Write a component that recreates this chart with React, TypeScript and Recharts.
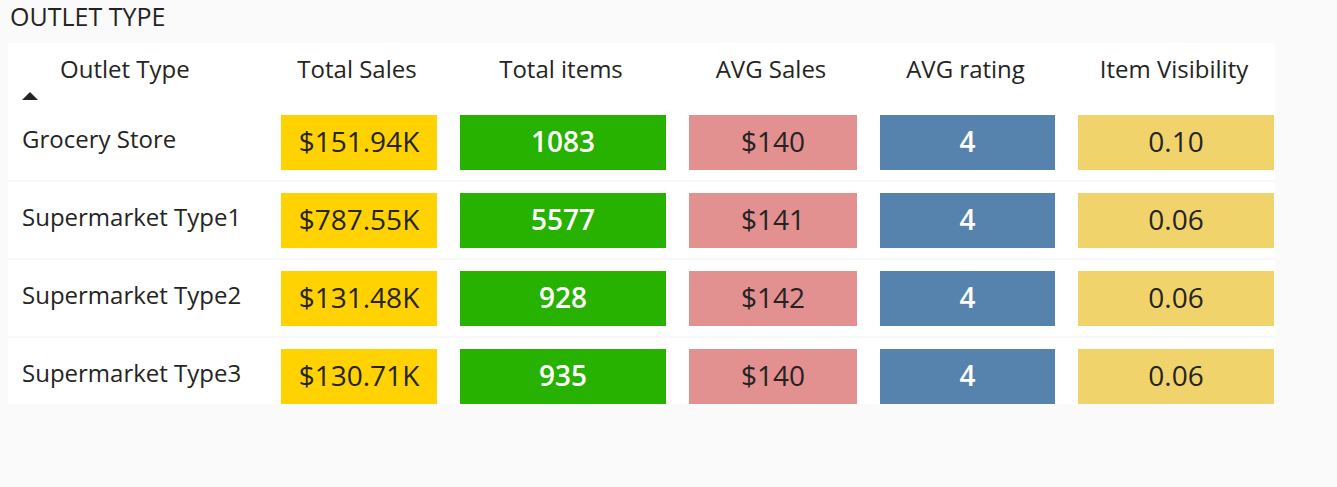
import { BarChart, Bar, XAxis, YAxis } from 'recharts'

const outlets = ['Grocery Store', 'Supermarket Type1', 'Supermarket Type2', 'Supermarket Type3']
const totalSales = ['$151.94K', '$787.55K', '$131.48K', '$130.71K']
const totalItems = [1083, 5577, 928, 935]
const avgSales = ['$140', '$141', '$142', '$140']
const avgRating = [4, 4, 4, 4]
const itemVisibility = ['0.10', '0.06', '0.06', '0.06']

const headers = ['Total Sales', 'Total items', 'AVG Sales', 'AVG rating', 'Item Visibility']

const data = outlets.map((name, i) => ({
  name,
  cells: [totalSales[i], String(totalItems[i]), avgSales[i], String(avgRating[i]), itemVisibility[i]],
  last: i === outlets.length - 1,
  bar: 1,
}))

// column geometry and colours
const cols = [
  { x: 281, w: 156, fill: '#FFD200', text: '#252423' },
  { x: 460, w: 206, fill: '#27B200', text: '#ffffff' },
  { x: 689, w: 168, fill: '#E39091', text: '#252423' },
  { x: 880, w: 175, fill: '#5683AE', text: '#ffffff' },
  { x: 1078, w: 196, fill: '#F1D36C', text: '#252423' },
]

const FONT = '"Segoe UI", "Open Sans", sans-serif'

// eslint-disable-next-line @typescript-eslint/no-explicit-any
function RowShape(props: any) {
  const { y, height, payload } = props
  const cy = y + height / 2
  return (
    <g>
      {!payload.last && (
        <line x1={8} x2={1275} y1={y + height + 11} y2={y + height + 11} stroke="#eef0ee" />
      )}
      <text x={22} y={cy - 1} fontSize={24} fill="#252423" dominantBaseline="middle" fontFamily={FONT} fontWeight={500}>
        {payload.name}
      </text>
      {cols.map((c, j) => (
        <g key={j}>
          <rect x={c.x} y={y} width={c.w} height={height} fill={c.fill} />
          <text
            x={c.x + c.w / 2}
            y={cy + 2}
            fontSize={28}
            fill={c.text}
            textAnchor="middle"
            dominantBaseline="middle"
            fontFamily={FONT}
            fontWeight={c.text === '#ffffff' ? 600 : 400}
          >
            {payload.cells[j]}
          </text>
        </g>
      ))}
    </g>
  )
}

export default function App() {
  return (
    <div style={{ position: 'absolute', left: 0, top: 0, width: 1337, height: 487, background: '#fafafa', fontFamily: FONT }}>
      <div style={{ position: 'absolute', left: 10, top: -1, fontSize: 25, fontWeight: 500, color: '#252423' }}>OUTLET TYPE</div>
      <div style={{ position: 'absolute', left: 8, top: 43, width: 1267, height: 361, background: '#ffffff' }} />
      <svg style={{ position: 'absolute', left: 0, top: 0 }} width={1337} height={487}>
        <text x={60} y={72} fontSize={24} fill="#252423" dominantBaseline="middle" fontFamily={FONT} fontWeight={500}>Outlet Type</text>
        <path d="M22 100 L38 100 L30 92 Z" fill="#252423" />
        {headers.map((h, j) => (
          <text key={h} x={cols[j].x + cols[j].w / 2 - 2} y={72} fontSize={24} fill="#252423" textAnchor="middle" dominantBaseline="middle" fontFamily={FONT} fontWeight={500}>
            {h}
          </text>
        ))}
      </svg>
      <BarChart
        style={{ position: 'absolute', left: 0, top: 0 }}
        width={1337}
        height={487}
        data={data}
        layout="vertical"
        margin={{ top: 103, bottom: 72, left: 0, right: 0 }}
      >
        <XAxis type="number" hide domain={[0, 1]} />
        <YAxis type="category" dataKey="name" hide />
        <Bar dataKey="bar" barSize={55} shape={<RowShape />} isAnimationActive={false} />
      </BarChart>
    </div>
  )
}
